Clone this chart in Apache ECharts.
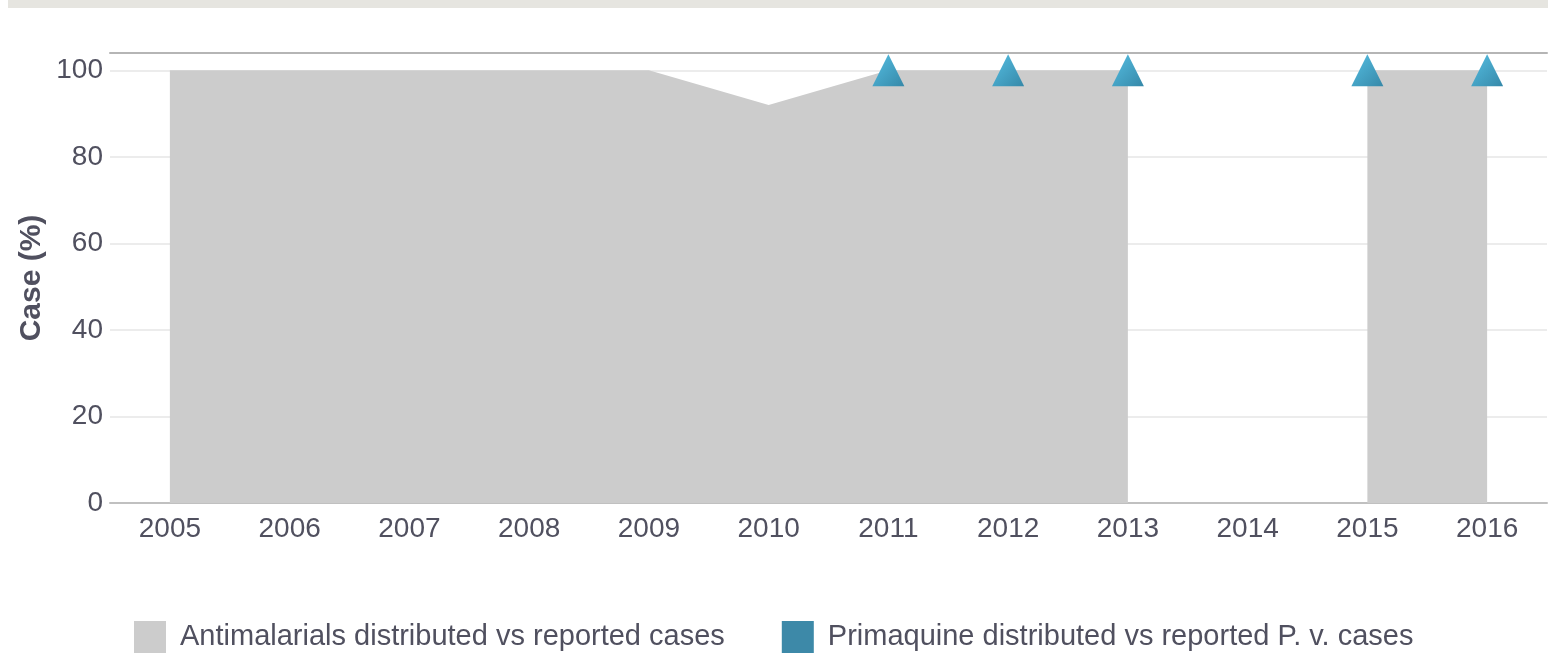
<!DOCTYPE html>
<html>
<head>
<meta charset="utf-8">
<script src="https://cdn.jsdelivr.net/npm/echarts@6/dist/echarts.min.js"></script>
<style>
html,body{margin:0;padding:0;background:#fff;}
#chart{width:1555px;height:657px;}
</style>
</head>
<body>
<div id="chart"></div>
<script>
var years = ['2005','2006','2007','2008','2009','2010','2011','2012','2013','2014','2015','2016'];
var antimalarials = [100,100,100,100,100,92,100,100,100,null,100,100];
var primaquine = [null,null,null,null,null,null,100,100,100,null,100,100];
var yTicks = [0,20,40,60,80,100];
var seriesNames = ['Antimalarials distributed vs reported cases','Primaquine distributed vs reported P. v. cases'];

var textColor = '#50505f';
var FONT = '"Liberation Sans", Arial, Helvetica, sans-serif';
var chart = echarts.init(document.getElementById('chart'));
chart.setOption({
  animation: false,
  textStyle: {fontFamily: FONT},
  graphic: [{
    type: 'rect', left: 8, top: 0, shape: {width: 1540, height: 8},
    style: {fill: '#e6e5e0'}, silent: true
  }],
  grid: {left: 110, right: 8, top: 53, bottom: 154, outerBoundsMode: 'none'},
  legend: {
    left: 134, top: 621, padding: 0,
    itemWidth: 32, itemHeight: 32, itemGap: 57,
    icon: 'rect',
    textStyle: {fontSize: 29, color: textColor, fontFamily: FONT, padding: [0,0,0,9]},
    data: [
      {name: seriesNames[0], itemStyle: {color: '#cccccc'}},
      {name: seriesNames[1], itemStyle: {color: '#3d89a8'}}
    ]
  },
  xAxis: [{
    type: 'category', data: years, boundaryGap: true,
    axisLine: {lineStyle: {color: '#c0c0c0', width: 2}},
    axisTick: {show: false},
    axisLabel: {fontSize: 28, color: textColor, fontFamily: FONT, margin: 12}
  }, {
    type: 'category', data: years, position: 'top',
    axisLine: {show: true, lineStyle: {color: '#b5b5b5', width: 2}},
    axisTick: {show: false}, axisLabel: {show: false}
  }],
  yAxis: {
    type: 'value', min: 0, max: 104, interval: 20,
    name: 'Case (%)', nameLocation: 'middle', nameGap: 63, nameMoveOverlap: false,
    nameTextStyle: {fontSize: 30, fontWeight: 'bold', color: textColor, fontFamily: FONT},
    axisLine: {show: false}, axisTick: {show: false},
    axisLabel: {fontSize: 28, color: textColor, fontFamily: FONT, margin: 7,
      formatter: function(v){ return yTicks.indexOf(v) >= 0 ? String(v) : ''; }},
    splitLine: {lineStyle: {color: '#ececec', width: 2}}
  },
  series: [{
    name: seriesNames[0], type: 'line', data: antimalarials,
    connectNulls: false, showSymbol: false, symbol: 'none',
    lineStyle: {width: 0, color: '#cccccc'},
    itemStyle: {color: '#cccccc'},
    areaStyle: {color: '#cccccc', opacity: 1},
    z: 1
  }, {
    name: seriesNames[1], type: 'scatter', data: primaquine,
    symbol: 'triangle', symbolSize: [32, 32],
    itemStyle: {
      color: new echarts.graphic.LinearGradient(0, 0, 1, 1, [
        {offset: 0, color: '#55bfe3'},
        {offset: 1, color: '#3688a8'}
      ]),
      opacity: 1
    },
    z: 5
  }]
});
</script>
</body>
</html>
